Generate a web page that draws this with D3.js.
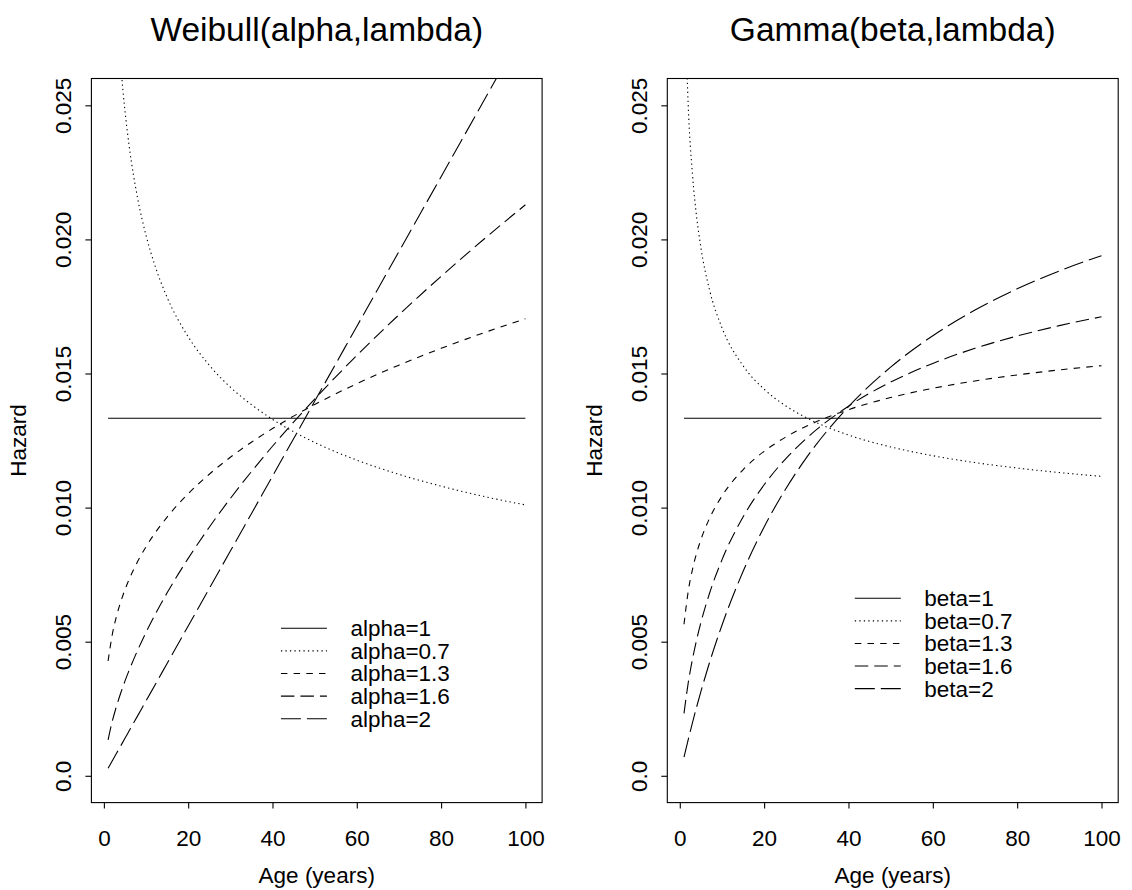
<!DOCTYPE html>
<html>
<head>
<meta charset="utf-8">
<script src="https://cdn.jsdelivr.net/npm/d3@7"></script>
<style>
  html, body { margin: 0; padding: 0; background: #fff; }
  svg { display: block; }
  text { font-family: "Liberation Sans", Arial, Helvetica, sans-serif; fill: #000; }
</style>
</head>
<body>
<svg id="chart" width="1132" height="890"></svg>
<script>
// ---------------- data ----------------
const weibullAges = [1,2,3,4,5,6,8,10,12,15,20,25,30,35,40,45,50,55,60,70,80,90,100];
const weibullAlpha1  = [0.01333,0.01333,0.01333,0.01333,0.01333,0.01333,0.01333,0.01333,0.01333,0.01333,0.01333,0.01333,0.01333,0.01333,0.01333,0.01333,0.01333,0.01333,0.01333,0.01333,0.01333,0.01333,0.01333];
const weibullAlpha07 = [0.04020,0.03265,0.02891,0.02652,0.02480,0.02348,0.02154,0.02015,0.01908,0.01784,0.01637,0.01531,0.01449,0.01384,0.01329,0.01283,0.01243,0.01208,0.01177,0.01124,0.01080,0.01042,0.01010];
const weibullAlpha13 = [0.004281,0.005270,0.005952,0.006488,0.006937,0.007327,0.007988,0.008541,0.009021,0.009646,0.010515,0.011243,0.011875,0.012437,0.012946,0.013411,0.013842,0.014244,0.014620,0.015312,0.015938,0.016511,0.017041];
const weibullAlpha16 = [0.001343,0.002036,0.002597,0.003086,0.003529,0.003936,0.004678,0.005348,0.005966,0.006821,0.008106,0.009268,0.010339,0.011341,0.012287,0.013187,0.014047,0.014874,0.015671,0.017190,0.018623,0.019987,0.021292];
const weibullAlpha2  = [0.000279,0.000559,0.000838,0.001117,0.001396,0.001676,0.002234,0.002793,0.003351,0.004189,0.005585,0.006981,0.008378,0.009774,0.011170,0.012566,0.013963,0.015359,0.016755,0.019548,0.022340,0.025133,0.027925];

const gammaAges = [1,2,3,4,5,7,10,15,20,25,30,40,50,60,70,80,90,100];
const gammaBeta1  = [0.01333,0.01333,0.01333,0.01333,0.01333,0.01333,0.01333,0.01333,0.01333,0.01333,0.01333,0.01333,0.01333,0.01333,0.01333,0.01333,0.01333,0.01333];
const gammaBeta07 = [0.030208,0.024979,0.022436,0.020834,0.019699,0.018150,0.016706,0.015289,0.014415,0.013807,0.013352,0.012706,0.012262,0.011934,0.011679,0.011475,0.011306,0.011165];
const gammaBeta13 = [0.005648,0.006877,0.007689,0.008305,0.008802,0.009580,0.010431,0.011410,0.012098,0.012618,0.013031,0.013652,0.014103,0.014448,0.014723,0.014947,0.015134,0.015292];
const gammaBeta16 = [0.002327,0.003462,0.004340,0.005073,0.005708,0.006777,0.008051,0.009650,0.010851,0.011801,0.012578,0.013781,0.014679,0.015377,0.015938,0.016398,0.016784,0.017115];
const gammaBeta2  = [0.000693,0.001350,0.001975,0.002570,0.003137,0.004195,0.005614,0.007619,0.009275,0.010667,0.011852,0.013763,0.015238,0.016410,0.017364,0.018156,0.018824,0.019394];

const weibullLabels = ["alpha=1","alpha=0.7","alpha=1.3","alpha=1.6","alpha=2"];
const gammaLabels   = ["beta=1","beta=0.7","beta=1.3","beta=1.6","beta=2"];
const panelTitles   = ["Weibull(alpha,lambda)", "Gamma(beta,lambda)"];
const xTickValues   = [0,20,40,60,80,100];
const yTickValues   = [0,0.005,0.010,0.015,0.020,0.025];
const yTickLabels   = ["0.0","0.005","0.010","0.015","0.020","0.025"];
const xLabel = "Age (years)";
const yLabel = "Hazard";

// ---------------- styles ----------------
const dashes = [null, "1.3,3.2", "6.5,6.2", "13.5,6", "20,6"];
const AXIS_FONT = 22.5;
const LEGEND_FONT = 22.5;
const TITLE_FONT = 33.5;

const svg = d3.select("#chart");
const defs = svg.append("defs");

const panels = [
  { box: {l: 91.4, r: 542.1, t: 78.5, b: 802.6}, title: panelTitles[0], ages: weibullAges,
    series: [weibullAlpha1, weibullAlpha07, weibullAlpha13, weibullAlpha16, weibullAlpha2],
    labels: weibullLabels, legend: {x: 42, y: 0.0055, row: 22.6} },
  { box: {l: 667.3, r: 1118.2, t: 78.5, b: 802.6}, title: panelTitles[1], ages: gammaAges,
    series: [gammaBeta1, gammaBeta07, gammaBeta13, gammaBeta16, gammaBeta2],
    labels: gammaLabels, legend: {x: 41.5, y: 0.00662, row: 22.6} }
];

panels.forEach((p, pi) => {
  const b = p.box;
  const x = d3.scaleLinear().domain([-2.96, 103.96]).range([b.l, b.r]);
  const y = d3.scaleLinear().domain([-0.001, 0.026]).range([b.b, b.t]);
  const g = svg.append("g");

  const clipId = "clip" + pi;
  defs.append("clipPath").attr("id", clipId)
    .append("rect").attr("x", b.l).attr("y", b.t).attr("width", b.r - b.l).attr("height", b.b - b.t);

  // curves
  const line = d3.line().x(d => x(d[0])).y(d => y(d[1])).curve(d3.curveMonotoneX);
  const cg = g.append("g").attr("clip-path", `url(#${clipId})`);
  p.series.forEach((vals, si) => {
    const pts = p.ages.map((a, i) => [a, vals[i]]);
    cg.append("path").attr("d", line(pts))
      .attr("fill", "none").attr("stroke", "#000").attr("stroke-width", 1.1)
      .attr("stroke-dasharray", dashes[si]);
  });

  // box
  g.append("rect").attr("x", b.l).attr("y", b.t).attr("width", b.r - b.l).attr("height", b.b - b.t)
    .attr("fill", "none").attr("stroke", "#000").attr("stroke-width", 1.1);

  // x axis
  const xa = g.append("g").attr("transform", `translate(0,${b.b})`)
    .call(d3.axisBottom(x).tickValues(xTickValues).tickSize(6).tickPadding(21).tickFormat(d3.format("d")));
  xa.select(".domain").remove();
  xa.selectAll("line").attr("stroke", "#000").attr("stroke-width", 1.1);
  xa.selectAll("text").attr("dy", 0).attr("font-size", AXIS_FONT)
    .attr("font-family", "Liberation Sans, Arial, sans-serif").attr("fill", "#000")
    .attr("y", 43.5);

  // y axis
  const ya = g.append("g").attr("transform", `translate(${b.l},0)`)
    .call(d3.axisLeft(y).tickValues(yTickValues).tickSize(6).tickFormat((d, i) => yTickLabels[i]));
  ya.select(".domain").remove();
  ya.selectAll("line").attr("stroke", "#000").attr("stroke-width", 1.1);
  ya.selectAll("text")
    .attr("x", 0).attr("dy", 0)
    .attr("transform", "translate(-20,0) rotate(-90)")
    .attr("text-anchor", "middle")
    .attr("font-size", AXIS_FONT).attr("font-family", "Liberation Sans, Arial, sans-serif").attr("fill", "#000");

  const cx = (b.l + b.r) / 2, cy = (b.t + b.b) / 2;
  // title
  g.append("text").attr("x", cx).attr("y", 41).attr("text-anchor", "middle")
    .attr("font-size", TITLE_FONT).text(p.title);
  // x label
  g.append("text").attr("x", cx).attr("y", 883).attr("text-anchor", "middle")
    .attr("font-size", AXIS_FONT).text(xLabel);
  // y label
  g.append("text").attr("transform", `translate(${b.l - 65},${cy}) rotate(-90)`)
    .attr("text-anchor", "middle").attr("font-size", AXIS_FONT).text(yLabel);

  // legend
  const lx0 = x(p.legend.x), lx1 = lx0 + 46, tx = lx0 + 69.5;
  const ly0 = y(p.legend.y);
  p.labels.forEach((lab, i) => {
    const yy = ly0 + i * p.legend.row;
    g.append("line").attr("x1", lx0).attr("x2", lx1).attr("y1", yy).attr("y2", yy)
      .attr("stroke", "#000").attr("stroke-width", 1.1).attr("stroke-dasharray", dashes[i]);
    g.append("text").attr("x", tx).attr("y", yy).attr("dy", "0.35em")
      .attr("font-size", LEGEND_FONT).text(lab);
  });
});
</script>
</body>
</html>
